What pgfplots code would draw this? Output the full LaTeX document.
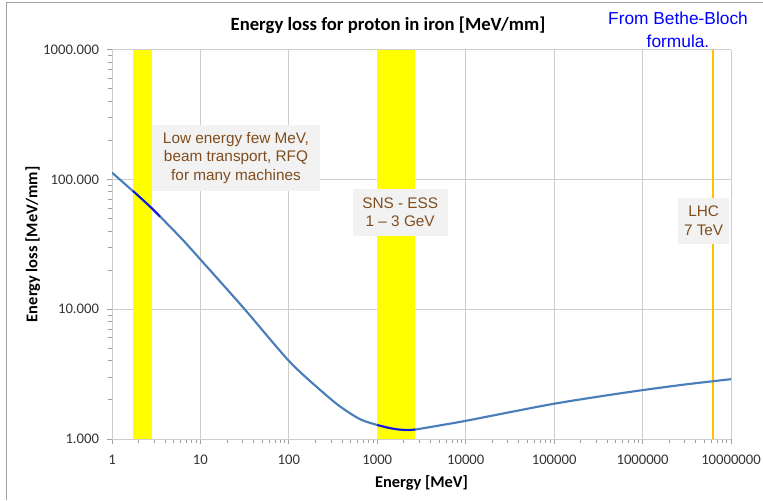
\documentclass[border=0pt]{standalone}
\usepackage{pgfplots}
\pgfplotsset{compat=1.18}
\usepackage{fontspec}
\setmainfont{Carlito}
\newfontfamily\arial{Liberation Sans}
\definecolor{curveblue}{RGB}{74,126,187}
\definecolor{darkblue}{RGB}{20,20,220}
\definecolor{bandyellow}{RGB}{255,255,0}
\definecolor{lhcgold}{RGB}{255,192,0}
\definecolor{gridgray}{RGB}{205,205,205}
\definecolor{framegray}{RGB}{160,160,160}
\definecolor{boxgray}{RGB}{242,242,242}
\definecolor{brown}{RGB}{128,78,30}
\begin{document}
\begin{tikzpicture}
\path[use as bounding box] (0,0) rectangle (572.25pt,375pt);
\draw[framegray,line width=0.75pt] (4.9pt,0pt) -- (4.9pt,373.1pt) -- (572.25pt,373.1pt);
\begin{axis}[
  at={(84pt,45.75pt)}, anchor=south west,
  scale only axis,
  width=464.25pt, height=292.1pt,
  xmode=log, ymode=log,
  xmin=1, xmax=1e7, ymin=1, ymax=1000,
  xtick={1,10,100,1000,10000,100000,1000000,10000000},
  xticklabels={1,10,100,1000,10000,100000,1000000,10000000},
  ytick={1,10,100,1000},
  yticklabels={1.000,10.000,100.000,1000.000},
  minor xtick={}, minor ytick={},
  grid=major,
  major grid style={gridgray,line width=0.75pt},
  axis line style={gridgray,line width=0.75pt},
  axis x line*=bottom, axis y line*=left,
  tick align=outside,
  major tick length=3.75pt,
  tick style={framegray,line width=0.75pt},
  ticklabel style={font=\fontsize{11}{13}\selectfont, text=black!80},
  xticklabel style={yshift=-5pt},
  yticklabel style={xshift=-2.5pt},
  xlabel={\textbf{Energy [MeV]}},
  ylabel={\textbf{Energy loss [MeV/mm]}},
  label style={font=\fontsize{12.3}{14}\selectfont},
  xlabel style={yshift=-1pt},
  ylabel style={yshift=-4.5pt},
  clip=true,
]
\addplot[fill=bandyellow,draw=none] coordinates {(1.73,1) (1.73,1000) (2.83,1000) (2.83,1)} -- cycle;
\addplot[fill=bandyellow,draw=none] coordinates {(990,1) (990,1000) (2680,1000) (2680,1)} -- cycle;
\addplot[lhcgold,line width=1.5pt] coordinates {(6.24e6,1) (6.24e6,1000)};
\addplot[curveblue,line width=1.6pt,smooth] coordinates {
(1,112.7) (1.67,82.8) (2.81,60) (5.88,36.0) (10,24.15) (31.6,10) (100,4.0)
(224,2.40) (380,1.78) (640,1.42) (1000,1.282) (1413,1.21)
(1820,1.18) (2290,1.172) (2820,1.189) (5010,1.27) (10000,1.38) (31623,1.61)
(100000,1.87) (316228,2.12) (1000000,2.38) (3162278,2.64) (10000000,2.89)};
\addplot[darkblue,line width=1.4pt,smooth] coordinates {(1.73,81.5) (2.81,60) (3.49,51.6)};
\addplot[darkblue,line width=1.4pt,smooth] coordinates {(1000,1.282) (1413,1.21) (1820,1.18) (2290,1.172) (2700,1.185)};
\end{axis}
\begin{scope}[x=0.75pt,y=0.75pt]
\node[font=\bfseries\fontsize{14}{16}\selectfont] at (388,475) {Energy loss for proton in iron [MeV/mm]};
\node[font=\arial\fontsize{13}{17.5}\selectfont, text=blue, align=center] at (678,470.5) {From Bethe-Bloch\\formula.};
\node[fill=boxgray, text=brown, font=\arial\fontsize{11.5}{14}\selectfont, align=center, minimum width=126pt, minimum height=49.5pt, inner sep=0pt] at (236,342) {Low energy few MeV,\\beam transport, RFQ\\for many machines};
\node[fill=boxgray, text=brown, font=\arial\fontsize{11.5}{14}\selectfont, align=center, minimum width=71.25pt, minimum height=35pt, inner sep=0pt] at (400.2,287.7) {SNS - ESS\\1 – 3 GeV};
\node[fill=boxgray, text=brown, font=\arial\fontsize{11.5}{14}\selectfont, align=center, minimum width=38.5pt, minimum height=34.5pt, inner sep=0pt] at (703.6,279) {LHC\\7 TeV};
\end{scope}
\end{tikzpicture}
\end{document}
